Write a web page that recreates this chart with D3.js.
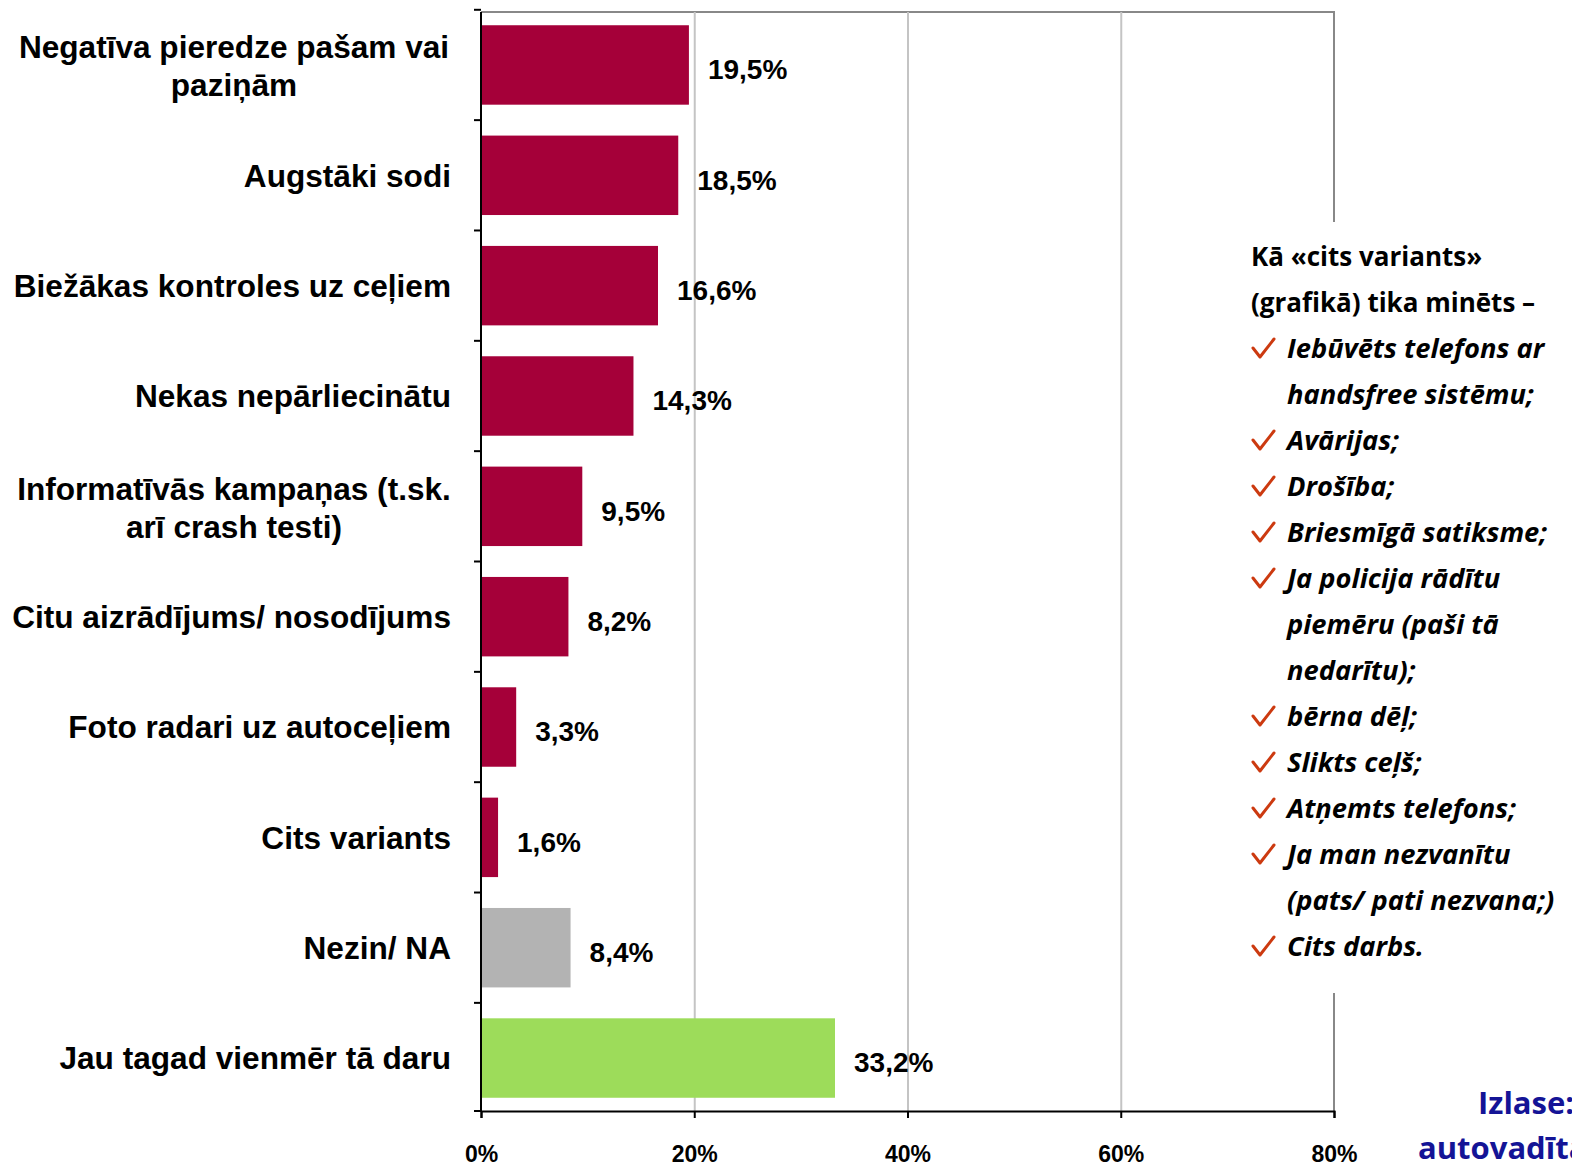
<!DOCTYPE html>
<html>
<head>
<meta charset="utf-8">
<script src="https://cdn.jsdelivr.net/npm/d3@7"></script>
<style>
  html, body { margin: 0; padding: 0; background: #fff; overflow: hidden; }
  svg { display: block; }
</style>
</head>
<body>
<script>
// chart data
const categories = [
  "Negatīva pieredze pašam vai\npaziņām",
  "Augstāki sodi",
  "Biežākas kontroles uz ceļiem",
  "Nekas nepārliecinātu",
  "Informatīvās kampaņas (t.sk.\narī crash testi)",
  "Citu aizrādījums/ nosodījums",
  "Foto radari uz autoceļiem",
  "Cits variants",
  "Nezin/ NA",
  "Jau tagad vienmēr tā daru"
];
const values = [19.5, 18.5, 16.6, 14.3, 9.5, 8.2, 3.3, 1.6, 8.4, 33.2];
const barColors = ["#a50039", "#a50039", "#a50039", "#a50039", "#a50039",
                   "#a50039", "#a50039", "#a50039", "#b3b3b3", "#9ddc5a"];
const xTicks = [0, 20, 40, 60, 80];

const noteTitle = ["Kā «cits variants»", "(grafikā) tika minēts –"];
const noteItems = [
  ["Iebūvēts telefons ar", "handsfree sistēmu;"],
  ["Avārijas;"],
  ["Drošība;"],
  ["Briesmīgā satiksme;"],
  ["Ja policija rādītu", "piemēru (paši tā", "nedarītu);"],
  ["bērna dēļ;"],
  ["Slikts ceļš;"],
  ["Atņemts telefons;"],
  ["Ja man nezvanītu", "(pats/ pati nezvana;)"],
  ["Cits darbs."]
];
const sampleNote = ["Izlase:", "autovadītāji"];

const W = 1572, H = 1167;
const plot = {left: 481, right: 1334, top: 12, bottom: 1111};

const svg = d3.select("body").append("svg")
  .attr("width", W).attr("height", H);

const x = d3.scaleLinear().domain([0, 80]).range([plot.left, plot.right]);
const y = d3.scaleBand().domain(categories).range([plot.top, plot.bottom])
  .paddingInner(0.28).paddingOuter(0.12);

// frame: top and right border in gray
svg.append("line")
  .attr("x1", plot.left).attr("x2", plot.right + 1)
  .attr("y1", plot.top).attr("y2", plot.top)
  .attr("stroke", "#888").attr("stroke-width", 2);
svg.append("line")
  .attr("x1", plot.right).attr("x2", plot.right)
  .attr("y1", plot.top).attr("y2", plot.bottom)
  .attr("stroke", "#888").attr("stroke-width", 2);

// gridlines
svg.append("g").selectAll("line")
  .data(xTicks.filter(d => d > 0 && d < 80))
  .join("line")
  .attr("x1", d => x(d) + 0.5).attr("x2", d => x(d) + 0.5)
  .attr("y1", plot.top).attr("y2", plot.bottom)
  .attr("stroke", "#c4c4c4").attr("stroke-width", 2);

// bars
svg.append("g").selectAll("rect")
  .data(values)
  .join("rect")
  .attr("x", x(0))
  .attr("y", (d, i) => y(categories[i]))
  .attr("width", d => x(d) - x(0))
  .attr("height", y.bandwidth())
  .attr("fill", (d, i) => barColors[i]);

// value labels
const fmt = d => d3.format(".1f")(d).replace(".", ",") + "%";
svg.append("g").selectAll("text")
  .data(values)
  .join("text")
  .attr("x", d => x(d) + 19)
  .attr("y", (d, i) => y(categories[i]) + y.bandwidth() / 2 + 7)
  .attr("dominant-baseline", "middle")
  .attr("font-family", "Liberation Sans, Arial, sans-serif")
  .attr("font-weight", "bold")
  .attr("font-size", 28)
  .attr("fill", "#000")
  .text(fmt);

// left axis with ticks at band boundaries
const axisG = svg.append("g");
axisG.append("line")
  .attr("x1", plot.left).attr("x2", plot.left)
  .attr("y1", plot.top).attr("y2", plot.bottom)
  .attr("stroke", "#000").attr("stroke-width", 2);
const bounds = categories.map(c => y(c) - y.step() * y.paddingInner() / 2);
bounds.push(plot.bottom);
axisG.selectAll(".yt").data(bounds).join("line")
  .attr("x1", plot.left - 7).attr("x2", plot.left)
  .attr("y1", d => d).attr("y2", d => d)
  .attr("stroke", "#000").attr("stroke-width", 2);

// category labels
const labG = svg.append("g")
  .attr("font-family", "Liberation Sans, Arial, sans-serif")
  .attr("font-weight", "bold")
  .attr("font-size", 31.6)
  .attr("fill", "#000");
categories.forEach(c => {
  const lines = c.split("\n");
  const cy = y(c) + y.bandwidth() / 2;
  if (lines.length === 1) {
    labG.append("text")
      .attr("x", 451).attr("y", cy + 3)
      .attr("text-anchor", "end")
      .attr("dominant-baseline", "middle")
      .text(c);
  } else {
    lines.forEach((l, j) => {
      labG.append("text")
        .attr("x", 234).attr("y", cy - 15 + j * 38)
        .attr("text-anchor", "middle")
        .attr("dominant-baseline", "middle")
        .text(l);
    });
  }
});

// bottom axis
const xAxis = d3.axisBottom(x)
  .tickValues(xTicks)
  .tickSize(7)
  .tickPadding(28)
  .tickFormat(d => d + "%");
const xg = svg.append("g")
  .attr("transform", `translate(0,${plot.bottom})`)
  .call(xAxis);
xg.select(".domain").attr("stroke", "#000").attr("stroke-width", 2);
xg.selectAll(".tick line").attr("stroke", "#000").attr("stroke-width", 2);
xg.selectAll(".tick text")
  .attr("font-family", "Liberation Sans, Arial, sans-serif")
  .attr("font-weight", "bold")
  .attr("font-size", 23)
  .attr("fill", "#000");

// annotation box
const nb = svg.append("g");
nb.append("rect")
  .attr("x", 1232).attr("y", 222)
  .attr("width", W - 1232).attr("height", 771)
  .attr("fill", "#fff");
const noteFont = "'Open Sans', 'Noto Sans', sans-serif";
let ly = 259;
const step = 46;
noteTitle.forEach(t => {
  nb.append("text")
    .attr("x", 1251).attr("y", ly)
    .attr("dominant-baseline", "middle")
    .attr("font-family", noteFont)
    .attr("font-weight", "bold")
    .attr("font-size", 26)
    .attr("fill", "#000")
    .text(t);
  ly += step;
});
noteItems.forEach(item => {
  nb.append("path")
    .attr("d", `M1253,${ly - 3} L1260,${ly + 6} L1274,${ly - 12}`)
    .attr("fill", "none")
    .attr("stroke", "#cc3a10")
    .attr("stroke-width", 3)
    .attr("stroke-linecap", "round")
    .attr("stroke-linejoin", "round");
  item.forEach(t => {
    nb.append("text")
      .attr("x", 1287).attr("y", ly)
      .attr("dominant-baseline", "middle")
      .attr("font-family", noteFont)
      .attr("font-weight", "bold")
      .attr("font-style", "italic")
      .attr("font-size", 27.3)
      .attr("fill", "#000")
      .text(t);
    ly += step;
  });
});

// sample note (runs off the right edge, as in the source slide)
const sn = svg.append("g")
  .attr("font-family", noteFont)
  .attr("font-weight", "bold")
  .attr("font-size", 31)
  .attr("fill", "#141496");
sn.append("text").attr("x", 1478).attr("y", 1114).text(sampleNote[0]);
sn.append("text").attr("x", 1418).attr("y", 1159).text(sampleNote[1]);
</script>
</body>
</html>
